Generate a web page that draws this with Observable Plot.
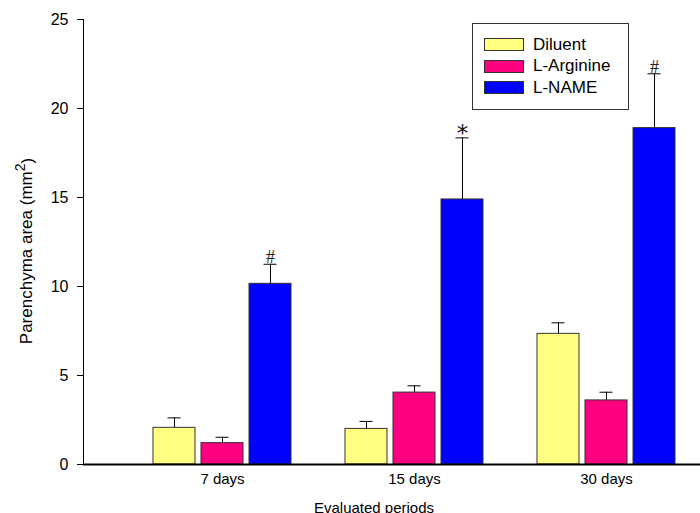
<!DOCTYPE html>
<html><head><meta charset="utf-8">
<script src="https://cdn.jsdelivr.net/npm/d3@7"></script>
<script src="https://cdn.jsdelivr.net/npm/@observablehq/plot@0.6"></script>
<style>
body{margin:0;background:#fff;font-family:"Liberation Sans",Arial,sans-serif}
#wrap{position:relative;width:700px;height:513px;overflow:hidden}
.legend{position:absolute;left:472px;top:23px;width:157px;height:87px;border:1px solid #333;box-sizing:border-box;background:#fff}
.legend .row{position:absolute;left:11px;height:14px;display:flex;align-items:center;font-size:17px;color:#000;white-space:nowrap}
.legend .sw{width:40px;height:13px;border:1px solid #333;box-sizing:border-box;margin-right:9px;flex:none}
</style></head><body><div id="wrap"></div>
<script>
const periods = ["7 days", "15 days", "30 days"];
const series = ["Diluent", "L-Arginine", "L-NAME"];
const colors = ["#FFFF80", "#FF0080", "#0000FF"];
const diluentMean = [2.06, 2.0, 7.34];
const diluentSE = [0.56, 0.42, 0.62];
const arginineMean = [1.2, 4.04, 3.6];
const arginineSE = [0.33, 0.38, 0.46];
const nameMean = [10.15, 14.89, 18.9];
const nameSE = [1.1, 3.46, 3.05];
const nameSignif = ["#", "*", "#"];
const yTicks = [0, 5, 10, 15, 20, 25];

const means = [diluentMean, arginineMean, nameMean];
const ses = [diluentSE, arginineSE, nameSE];
const rowsBySeries = series.map((s, i) => periods.map((p, j) => ({
  series: s, period: p, mean: means[i][j], top: means[i][j] + ses[i][j], mark: i === 2 ? nameSignif[j] : ""
})));

const step = 48;
const marks = [];
rowsBySeries.forEach((rows, i) => {
  const dx = (i - 1) * step;
  marks.push(Plot.ruleX(rows, {x: "period", y1: "mean", y2: "top", dx, stroke: "#000", strokeWidth: 1}));
  marks.push(Plot.tickY(rows, {x: "period", y: "top", dx, insetLeft: 89.5, insetRight: 89.5, stroke: "#000", strokeWidth: 1}));
  marks.push(Plot.barY(rows, {x: "period", y: "mean", dx, insetLeft: 75, insetRight: 75, fill: colors[i], stroke: "#333", strokeWidth: 1}));
});
const nameRows = rowsBySeries[2];
marks.push(Plot.text(nameRows.filter(d => d.mark === "#"), {x: "period", y: "top", text: "mark", dx: step, dy: -1, lineAnchor: "bottom",
  fontSize: 18, fontFamily: "Liberation Serif", fill: "#222"}));
marks.push(Plot.text(nameRows.filter(d => d.mark === "*"), {x: "period", y: "top", text: "mark", dx: step, dy: 3, lineAnchor: "bottom",
  fontSize: 23, fontFamily: "DejaVu Sans", fill: "#111"}));
marks.push(Plot.ruleY([0], {stroke: "#000", strokeWidth: 2}));
marks.push(Plot.frame({anchor: "left", stroke: "#000"}));
marks.push(Plot.axisY({ticks: yTicks, tickSize: 6, tickPadding: 9, fontSize: 16, label: null}));
marks.push(Plot.axisX({tickSize: 0, tickPadding: 9, fontSize: 15, label: null}));
marks.push(Plot.text(["Parenchyma area (mm2)"], {frameAnchor: "left", dx: -57, dy: 9, rotate: -90, fontSize: 17,
  textAnchor: "middle", lineAnchor: "middle", className: "ylab"}));
marks.push(Plot.text(["Evaluated periods"], {frameAnchor: "bottom", dx: -18, dy: 44, fontSize: 15, lineAnchor: "middle"}));

const chart = Plot.plot({
  width: 700, height: 513,
  marginLeft: 83, marginRight: 0, marginTop: 19, marginBottom: 49,
  style: {fontFamily: "Liberation Sans, Arial, sans-serif", color: "#000", background: "#fff", overflow: "visible"},
  x: {domain: periods, range: [126, 702], padding: 0},
  y: {domain: [0, 25]},
  marks
});
const wrap = document.getElementById("wrap");
wrap.appendChild(chart);

// superscript for the axis label
const yl = d3.select(chart).select(".ylab text");
yl.text(null);
yl.append("tspan").text("Parenchyma area (mm");
yl.append("tspan").attr("dy", "-0.5em").attr("font-size", "14").text("2");
yl.append("tspan").attr("dy", "0.5em").text(")");

// legend
const lg = document.createElement("div");
lg.className = "legend";
series.forEach((s, i) => {
  const r = document.createElement("div");
  r.className = "row";
  r.style.top = (13.5 + i * 21.7) + "px";
  const sw = document.createElement("div");
  sw.className = "sw";
  sw.style.background = colors[i];
  const t = document.createElement("span");
  t.textContent = s;
  r.appendChild(sw); r.appendChild(t);
  lg.appendChild(r);
});
wrap.appendChild(lg);
</script>
</body></html>
